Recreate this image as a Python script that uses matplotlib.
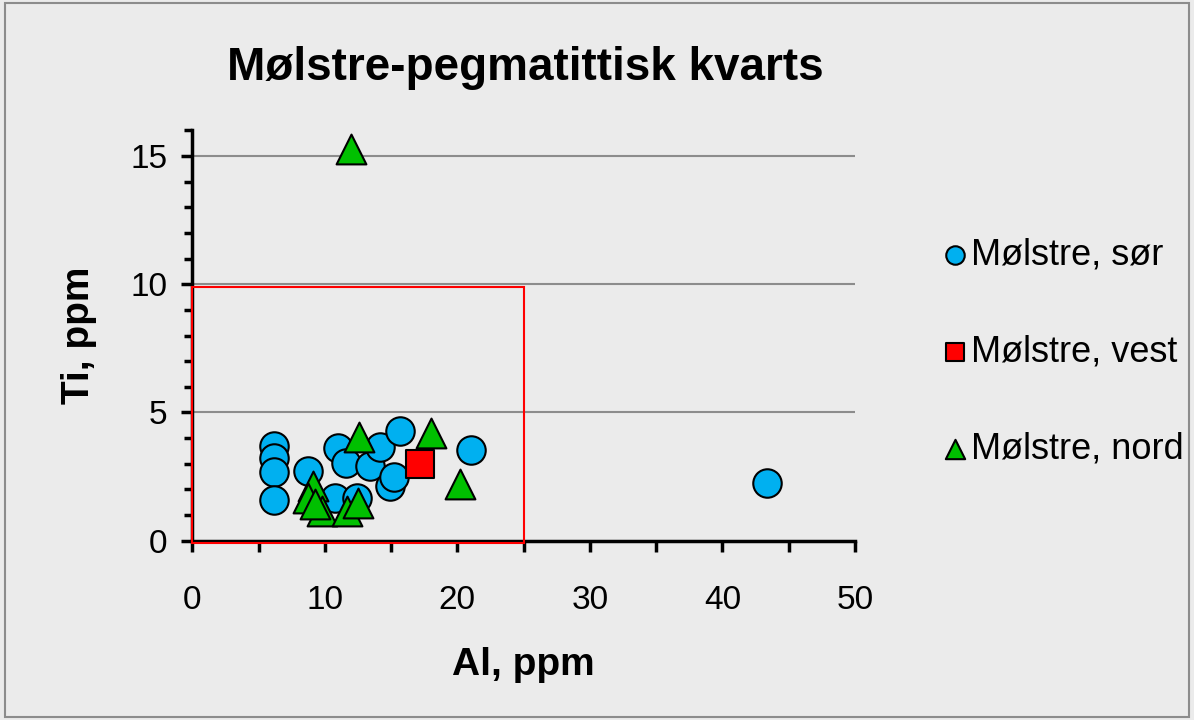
import matplotlib.pyplot as plt
from matplotlib.patches import Rectangle
from matplotlib.ticker import MultipleLocator

plt.rcParams['font.family'] = ['Liberation Sans', 'DejaVu Sans']

# Mølstre, sør
sor_al = [6.2, 6.2, 6.2, 6.2, 8.7, 11.0, 11.6, 13.4, 14.2, 15.7, 14.9, 15.2, 21.0, 10.8, 12.4, 43.4]
sor_ti = [3.71, 3.22, 2.66, 1.57, 2.70, 3.63, 3.03, 2.93, 3.67, 4.26, 2.12, 2.47, 3.52, 1.66, 1.66, 2.26]
# Mølstre, vest
vest_al = [17.2]
vest_ti = [3.0]
# Mølstre, nord
nord_al = [12.0, 12.6, 18.0, 20.2, 9.1, 8.7, 9.8, 11.7, 12.5, 9.3]
nord_ti = [15.27, 4.04, 4.19, 2.21, 2.13, 1.67, 1.17, 1.14, 1.49, 1.45]

bg = '#ebebeb'
fig = plt.figure(figsize=(11.94, 7.2), dpi=100, facecolor=bg)
fig.patches.append(Rectangle((0.004, 0.004), 0.992, 0.992, transform=fig.transFigure,
                             fill=False, edgecolor='#8c8c8c', linewidth=1.5))
ax = fig.add_axes([0.161, 0.249, 0.555, 0.570], facecolor=bg)

for y in [5, 10, 15]:
    ax.axhline(y, color='#8c8c8c', linewidth=1.5, zorder=1)

# red box around the main cluster
ax.add_patch(Rectangle((0, -0.08), 25, 9.98, fill=False, edgecolor='red', linewidth=1.5,
                       zorder=2.6, clip_on=False))

ax.scatter(sor_al, sor_ti, s=420, marker='o', facecolor='#00b0f0', edgecolor='black',
           linewidth=1.5, zorder=3, label='Mølstre, sør')
ax.scatter(vest_al, vest_ti, s=380, marker='s', facecolor='#ff0000', edgecolor='black',
           linewidth=1.5, zorder=4, label='Mølstre, vest')
ax.scatter(nord_al, nord_ti, s=460, marker='^', facecolor='#00c000', edgecolor='black',
           linewidth=1.5, zorder=5, label='Mølstre, nord')

ax.set_xlim(0, 50)
ax.set_ylim(0, 16)
ax.xaxis.set_major_locator(MultipleLocator(10))
ax.xaxis.set_minor_locator(MultipleLocator(5))
ax.yaxis.set_major_locator(MultipleLocator(5))
ax.yaxis.set_minor_locator(MultipleLocator(1))
ax.tick_params(which='major', direction='out', length=8, width=2.5, labelsize=24, pad=10)
ax.tick_params(which='minor', direction='out', length=6, width=2.5)
ax.tick_params(axis='x', which='minor', length=8)
ax.tick_params(axis='x', which='major', pad=24)
for s in ['top', 'right']:
    ax.spines[s].set_visible(False)
for s in ['left', 'bottom']:
    ax.spines[s].set_linewidth(2.5)

ax.set_xlabel('Al, ppm', fontsize=28, fontweight='bold', labelpad=22)
ax.set_ylabel('Ti, ppm', fontsize=28, fontweight='bold', labelpad=24)
fig.text(0.44, 0.905, 'Mølstre-pegmatittisk kvarts', ha='center', va='center',
         fontsize=33, fontweight='bold')

leg = ax.legend(loc='center left', bbox_to_anchor=(1.105, 0.46), frameon=False, fontsize=26,
                markerscale=0.65, handletextpad=0.0, labelspacing=1.72, borderaxespad=0,
                handlelength=0.9)

fig.savefig('out.png', dpi=100, facecolor=bg)
